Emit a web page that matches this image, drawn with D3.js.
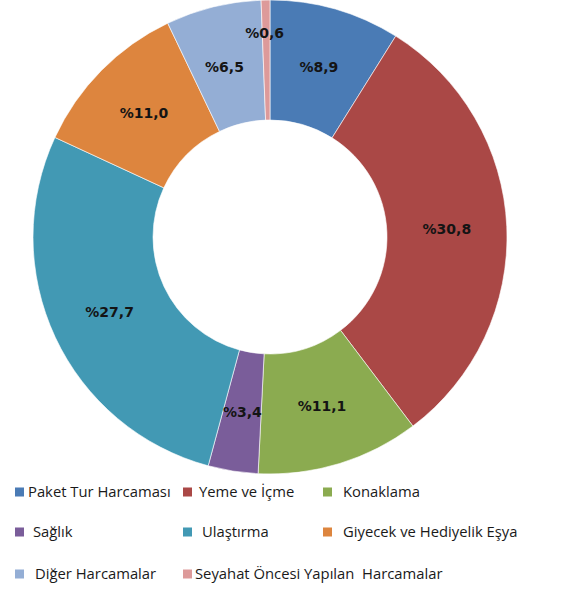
<!DOCTYPE html>
<html><head><meta charset="utf-8">
<script src="https://cdn.jsdelivr.net/npm/d3@7/dist/d3.min.js"></script>
<style>
html,body{margin:0;padding:0;background:#fff;}
svg{display:block;}
</style></head>
<body>
<svg id="chart" width="568" height="591"></svg>
<script>
const categories = ["Paket Tur Harcaması","Yeme ve İçme","Konaklama","Sağlık","Ulaştırma","Giyecek ve Hediyelik Eşya","Diğer Harcamalar","Seyahat Öncesi Yapılan  Harcamalar"];
const values = [8.9, 30.8, 11.1, 3.4, 27.7, 11.0, 6.5, 0.6];
const valueLabels = ["%8,9","%30,8","%11,1","%3,4","%27,7","%11,0","%6,5","%0,6"];
const colors = ["#4a7bb5","#aa4846","#8bab50","#7a5d9a","#4299b4","#dd853e","#94aed5","#dd9a9a"];

const svg = d3.select("#chart");
const cx = 270, cy = 237, rOuter = 237, rInner = 117;
const g = svg.append("g").attr("transform", `translate(${cx},${cy})`);

const pie = d3.pie().sort(null).value(d => d.v);
const data = categories.map((c,i)=>({c, v: values[i], lab: valueLabels[i], col: colors[i]}));
const arcs = pie(data);
const arc = d3.arc().innerRadius(rInner).outerRadius(rOuter);

g.selectAll("path.slice").data(arcs).enter().append("path")
  .attr("class","slice")
  .attr("d", arc)
  .attr("fill", d => d.data.col)
  .attr("stroke", "#ffffff")
  .attr("stroke-width", 0.6);

// label placement (manual adjustments for small slices, as in the original)
const labelAdjust = {6: {angle: -15 * Math.PI/180, r: 176}, 7: {angle: -1.5 * Math.PI/180, r: 204}};
const labelR = 177;
g.selectAll("text.lbl").data(arcs).enter().append("text")
  .attr("class","lbl")
  .attr("transform", (d,i) => {
    let a = (d.startAngle + d.endAngle)/2, r = labelR;
    if (labelAdjust[i]) { a = labelAdjust[i].angle; r = labelAdjust[i].r; }
    return `translate(${r*Math.sin(a)},${-r*Math.cos(a)})`;
  })
  .attr("text-anchor","middle")
  .attr("dy","0.36em")
  .attr("font-family","DejaVu Sans, Verdana, sans-serif")
  .attr("font-weight","bold")
  .attr("font-size","14px")
  .attr("fill","#141414")
  .text(d => d.data.lab);

// legend
const legendX = [15, 183, 323];
const legendTextX = [[28, 199, 343],[33, 202, 343],[35, 195]];
const legendY = [492, 532, 574];
const leg = svg.append("g");
data.forEach((d,i) => {
  const row = Math.floor(i/3), col = i%3;
  leg.append("rect")
    .attr("x", legendX[col]).attr("y", legendY[row]-4.5)
    .attr("width", 9).attr("height", 9)
    .attr("fill", d.col);
  leg.append("text")
    .attr("x", legendTextX[row][col]).attr("y", legendY[row])
    .attr("dy","0.35em")
    .attr("font-family","Open Sans, Noto Sans, sans-serif")
    .attr("font-size","14.8px")
    .attr("fill","#1a1a1a")
    .attr("xml:space","preserve")
    .style("white-space","pre")
    .text(d.c);
});
</script>
</body></html>
